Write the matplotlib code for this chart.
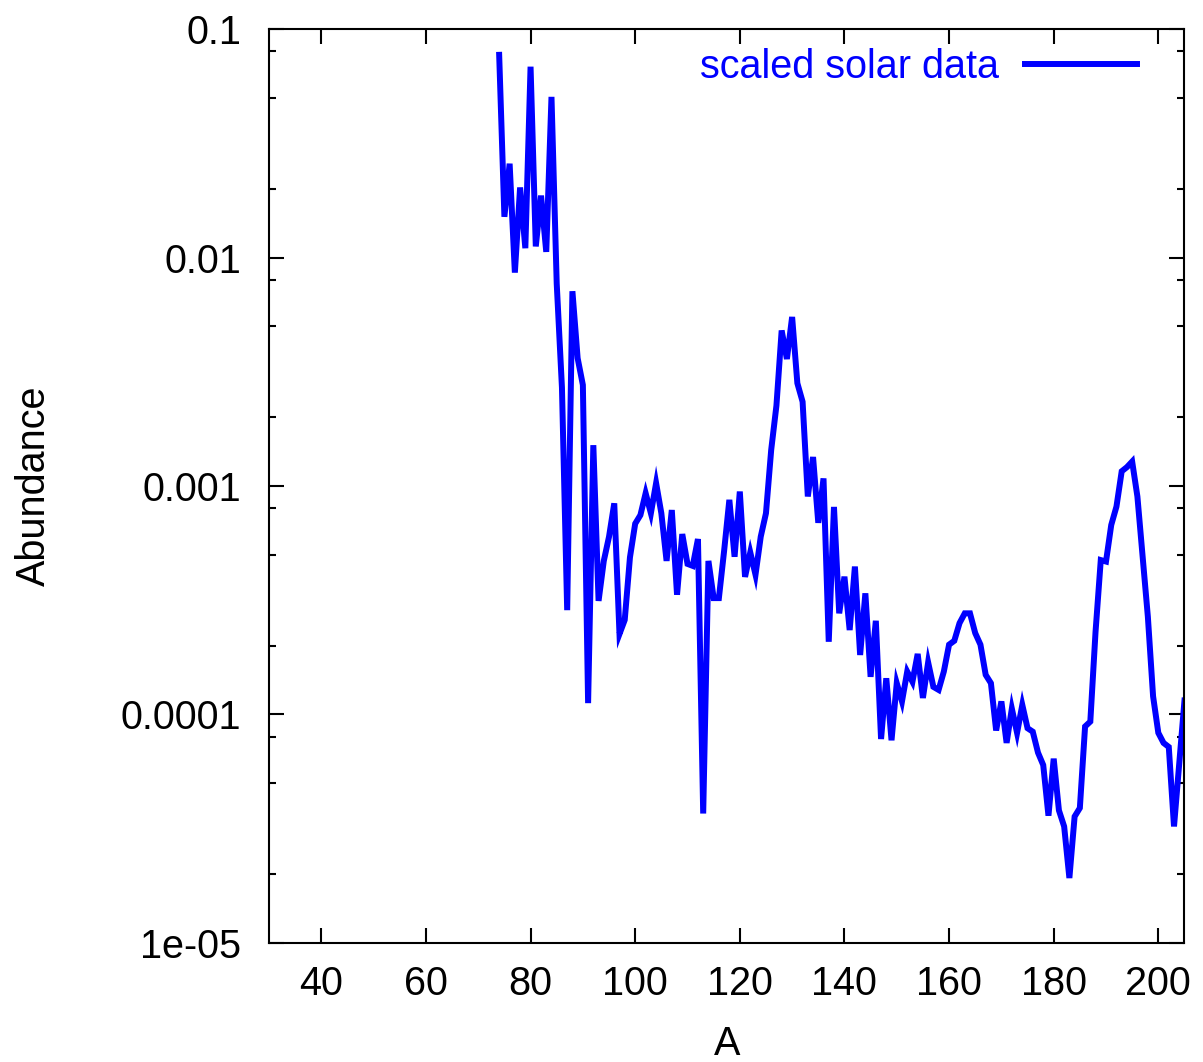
import numpy as np
import matplotlib
matplotlib.use('Agg')
import matplotlib.pyplot as plt
from matplotlib.ticker import LogLocator, NullFormatter, FixedLocator

plt.rcParams['font.family'] = ['Liberation Sans', 'DejaVu Sans']

# mass number A and scaled solar abundance
mass_number = np.arange(74, 206)
abundance = [
    0.0773, 0.0151, 0.0258, 0.0086, 0.0203, 0.011, 0.0686, 0.0112, 0.0187, 0.0106,   # 74-83
    0.0506, 0.0077, 0.0027, 0.000286, 0.00713, 0.00363, 0.00277, 0.000112, 0.00151, 0.000314,  # 84-93
    0.00047, 0.0006, 0.00084, 0.000225, 0.000259, 0.000487, 0.000684, 0.000746, 0.00093, 0.00076,  # 94-103
    0.00103, 0.00076, 0.00047, 0.000785, 0.000334, 0.000616, 0.000456, 0.000447, 0.000586, 3.68e-5,  # 104-113
    0.00047, 0.000323, 0.000323, 0.00052, 0.00087, 0.00049, 0.000946, 0.0004, 0.000512, 0.000409,  # 114-123
    0.0006, 0.00076, 0.00144, 0.00225, 0.0048, 0.0036, 0.0055, 0.00282, 0.00234, 0.0009,  # 124-133
    0.00134, 0.00069, 0.00108, 0.000208, 0.00081, 0.000277, 0.000401, 0.000234, 0.000444, 0.000182,  # 134-143
    0.000339, 0.000146, 0.000257, 7.8e-5, 0.000144, 7.7e-5, 0.000137, 0.000114, 0.000154, 0.000139,  # 144-153
    0.000184, 0.000118, 0.000169, 0.000132, 0.000128, 0.000154, 0.000202, 0.00021, 0.000251, 0.000277,  # 154-163
    0.000277, 0.000227, 0.000202, 0.000149, 0.000137, 8.5e-5, 0.000114, 7.5e-5, 0.000106, 8.3e-5,  # 164-173
    0.00011, 8.7e-5, 8.4e-5, 6.8e-5, 6.0e-5, 3.6e-5, 6.4e-5, 3.8e-5, 3.23e-5, 1.92e-5,  # 174-183
    3.57e-5, 3.89e-5, 8.85e-5, 9.3e-5, 0.00023, 0.000474, 0.000467, 0.000675, 0.000813, 0.00116,  # 184-193
    0.00121, 0.00128, 0.0009, 0.00049, 0.000268, 0.00012, 8.3e-5, 7.5e-5, 7.2e-5, 3.23e-5,  # 194-203
    6.1e-5, 0.000115,  # 204-205
]

x_ticks = [40, 60, 80, 100, 120, 140, 160, 180, 200]
y_ticks = [1e-5, 1e-4, 1e-3, 1e-2, 1e-1]
y_ticklabels = ['1e-05', '0.0001', '0.001', '0.01', '0.1']

fig = plt.figure(figsize=(12.03, 10.62), dpi=100)
ax = fig.add_axes([0.2236, 0.1123, 0.7610, 0.8601])

ax.plot(mass_number, abundance, color='#0000ff', lw=4.3, label='scaled solar data',
        solid_joinstyle='miter')

ax.set_yscale('log')
ax.set_xlim(30, 205)
ax.set_ylim(1e-5, 0.1)

ax.xaxis.set_major_locator(FixedLocator(x_ticks))
ax.set_yticks(y_ticks)
ax.set_yticklabels(y_ticklabels)
ax.yaxis.set_minor_locator(LogLocator(base=10, subs=[2, 5, 8]))
ax.yaxis.set_minor_formatter(NullFormatter())

ax.tick_params(which='both', direction='in', top=True, right=True, width=1.5, labelsize=28.5)
ax.tick_params(which='major', length=10.5)
ax.tick_params(which='minor', length=5.3)
ax.tick_params(axis='x', pad=16)
ax.tick_params(axis='y', pad=20)
for s in ax.spines.values():
    s.set_linewidth(1.5)

ax.set_xlabel('A', fontsize=28.5, labelpad=16)
ax.set_ylabel('Abundance', fontsize=28.5, labelpad=49)

leg = ax.legend(loc='upper right', bbox_to_anchor=(0.9486, 0.980), frameon=False,
                markerfirst=False, handlelength=2.83, handletextpad=0.66,
                borderpad=0, borderaxespad=0, fontsize=28.5, labelcolor='#0000ff')

fig.savefig('out.png', dpi=100)
